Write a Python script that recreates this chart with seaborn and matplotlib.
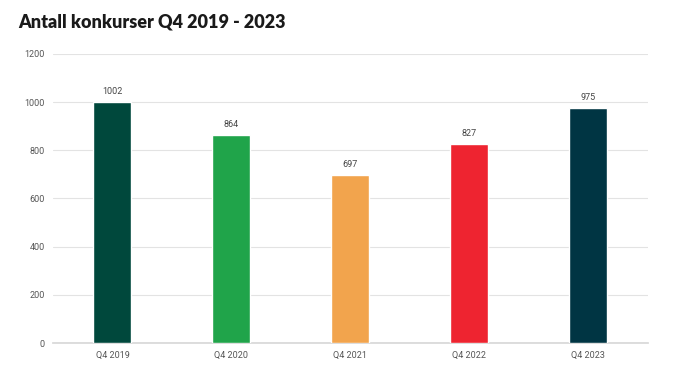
import matplotlib
matplotlib.use("Agg")
import matplotlib.pyplot as plt
import seaborn as sns
import pandas as pd

quarters = ["Q4 2019", "Q4 2020", "Q4 2021", "Q4 2022", "Q4 2023"]
bankruptcies = [1002, 864, 697, 827, 975]
bar_colors = ["#00483c", "#20a44a", "#f2a44d", "#ee2430", "#003543"]

df = pd.DataFrame({"kvartal": quarters, "antall": bankruptcies})

sns.set_theme(style="white")
plt.rcParams["font.family"] = ["Roboto", "DejaVu Sans"]

fig = plt.figure(figsize=(6.75, 3.73), dpi=100)
ax = fig.add_axes([0.0785, 0.0804, 0.881, 0.775])

sns.barplot(data=df, x="kvartal", y="antall", hue="kvartal", palette=bar_colors,
            width=0.32, legend=False, ax=ax, saturation=1, zorder=3)

for i, v in enumerate(bankruptcies):
    ax.text(i, v + 25, str(v), ha="center", va="bottom", fontsize=6.5, color="#444444")

ax.set_ylim(0, 1200)
ax.set_xlim(-0.5, 4.5)
ax.set_yticks(range(0, 1201, 200))
ax.yaxis.grid(True, color="#e3e3e3", linewidth=0.8, zorder=0)
ax.set_xlabel("")
ax.set_ylabel("")
for s in ["top", "right", "left"]:
    ax.spines[s].set_visible(False)
ax.spines["bottom"].set_color("#d8d8d8")
ax.tick_params(axis="both", length=0, labelsize=6.5, colors="#555555", pad=6)

fig.text(0.027, 0.94, "Antall konkurser Q4 2019 - 2023", fontsize=13,
         fontweight="heavy", family=["Lato", "DejaVu Sans"], color="#1a1a1a", va="center")

fig.savefig("out.png", dpi=100)
